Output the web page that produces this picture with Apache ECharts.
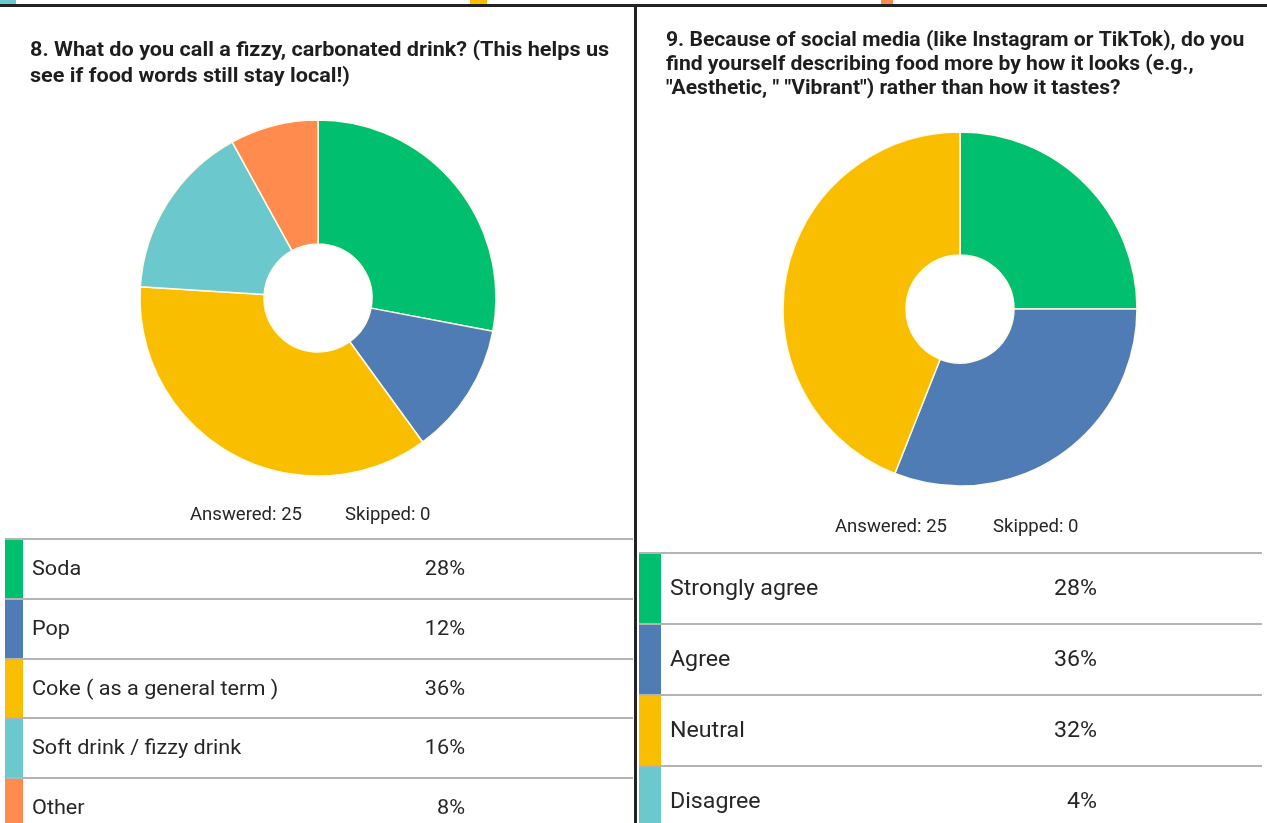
<!DOCTYPE html>
<html>
<head>
<meta charset="utf-8">
<title>Survey results</title>
<script src="https://cdn.jsdelivr.net/npm/echarts@6/dist/echarts.min.js"></script>
<style>
  html, body { margin: 0; padding: 0; background: #fff; }
  #main { width: 1267px; height: 823px; }
</style>
</head>
<body>
<div id="main"></div>
<script>
// question 8
var q8Title = '8. What do you call a fizzy, carbonated drink? (This helps us\nsee if food words still stay local!)';
var q8Labels = ['Soda', 'Pop', 'Coke ( as a general term )', 'Soft drink / fizzy drink', 'Other'];
var q8Pct = [28, 12, 36, 16, 8];
// question 9
var q9Title = '9. Because of social media (like Instagram or TikTok), do you\nfind yourself describing food more by how it looks (e.g.,\n"Aesthetic, " "Vibrant") rather than how it tastes?';
var q9Labels = ['Strongly agree', 'Agree', 'Neutral', 'Disagree'];
var q9Pct = [28, 36, 32, 4];
// ring of q9 as it is drawn in the picture (three slices only)
var q9Ring = [25, 31, 44];
var answered = 25;
var skipped = 0;

var palette = ['#00bf6f', '#507cb6', '#f9be00', '#6bc8cd', '#ff8b4f'];
var FONT = 'Roboto, "Noto Sans", sans-serif';
var STRETCH = 1.03; // the screenshot is a little wider than tall

var chart = echarts.init(document.getElementById('main'));

function txt(text, x, y, size, opts) {
	opts = opts || {};
	return {
		type: 'text',
		x: x,
		y: y,
		scaleX: STRETCH,
		silent: true,
		style: {
			text: text,
			fill: opts.color || '#262626',
			fontFamily: FONT,
			fontSize: size,
			fontWeight: opts.bold ? 'bold' : 'normal',
			align: opts.align || 'left',
			verticalAlign: opts.valign || 'middle',
			lineHeight: opts.lineHeight
		}
	};
}

// rows of the answer table, lineYs = top of each row
function table(labels, pct, lineYs, rowH, left, right, barW, pctX, size) {
	var out = [];
	for (var i = 0; i < labels.length; i++) {
		var top = lineYs[i];
		var bottom = i + 1 < lineYs.length ? lineYs[i + 1] : 823;
		var mid = top + rowH / 2 + 1;
		out.push({
			type: 'rect', silent: true,
			shape: { x: left, y: top, width: barW, height: bottom - top },
			style: { fill: palette[i] }
		});
		out.push({
			type: 'rect', silent: true,
			shape: { x: left, y: top - 1, width: right - left, height: 2 },
			style: { fill: '#b4b4b4' }
		});
		out.push(txt(labels[i], left + barW + 9, mid, size));
		out.push(txt(pct[i] + '%', pctX, mid, size, { align: 'right' }));
	}
	return out;
}

var graphics = [
	// frame bits from the screenshot
	{ type: 'rect', silent: true, shape: { x: 0, y: 0, width: 16, height: 6 }, style: { fill: '#6bc8cd' } },
	{ type: 'rect', silent: true, shape: { x: 470, y: 0, width: 17, height: 6 }, style: { fill: '#f9be00' } },
	{ type: 'rect', silent: true, shape: { x: 881, y: 0, width: 12, height: 6 }, style: { fill: '#ff8b4f' } },
	{ type: 'rect', silent: true, shape: { x: 0, y: 4, width: 1267, height: 3 }, style: { fill: '#222' } },
	{ type: 'rect', silent: true, shape: { x: 634, y: 4, width: 3, height: 819 }, style: { fill: '#222' } },
	txt(q8Title, 30, 38, 21, { bold: true, valign: 'top', lineHeight: 26, color: '#1e1e1e' }),
	txt(q9Title, 666, 29, 20.5, { bold: true, valign: 'top', lineHeight: 24, color: '#1e1e1e' }),
	txt('Answered: ' + answered, 190, 515, 18),
	txt('Skipped: ' + skipped, 345, 515, 18),
	txt('Answered: ' + answered, 835, 527, 18),
	txt('Skipped: ' + skipped, 993, 527, 18)
];
graphics = graphics.concat(table(q8Labels, q8Pct, [539, 599, 659, 718, 778], 59, 5, 633, 18, 465, 21));
graphics = graphics.concat(table(q9Labels, q9Pct, [553, 624, 695, 766], 71, 639, 1262, 22, 1097, 22.5));

function ringData(labels, values) {
	return values.map(function (v, i) {
		return { name: labels[i], value: v, itemStyle: { color: palette[i] } };
	});
}

var option = {
	animation: false,
	backgroundColor: '#fff',
	graphic: graphics,
	series: [{
		type: 'pie',
		center: [318, 298],
		radius: [54, 178],
		startAngle: 90,
		clockwise: true,
		label: { show: false },
		labelLine: { show: false },
		itemStyle: { borderColor: '#fffbe8', borderWidth: 1.5 },
		data: ringData(q8Labels, q8Pct)
	}, {
		type: 'pie',
		center: [960, 309],
		radius: [54, 177],
		startAngle: 90,
		clockwise: true,
		label: { show: false },
		labelLine: { show: false },
		itemStyle: { borderColor: '#fffbe8', borderWidth: 1.5 },
		data: ringData(q9Labels, q9Ring)
	}]
};
chart.setOption(option);
</script>
</body>
</html>
